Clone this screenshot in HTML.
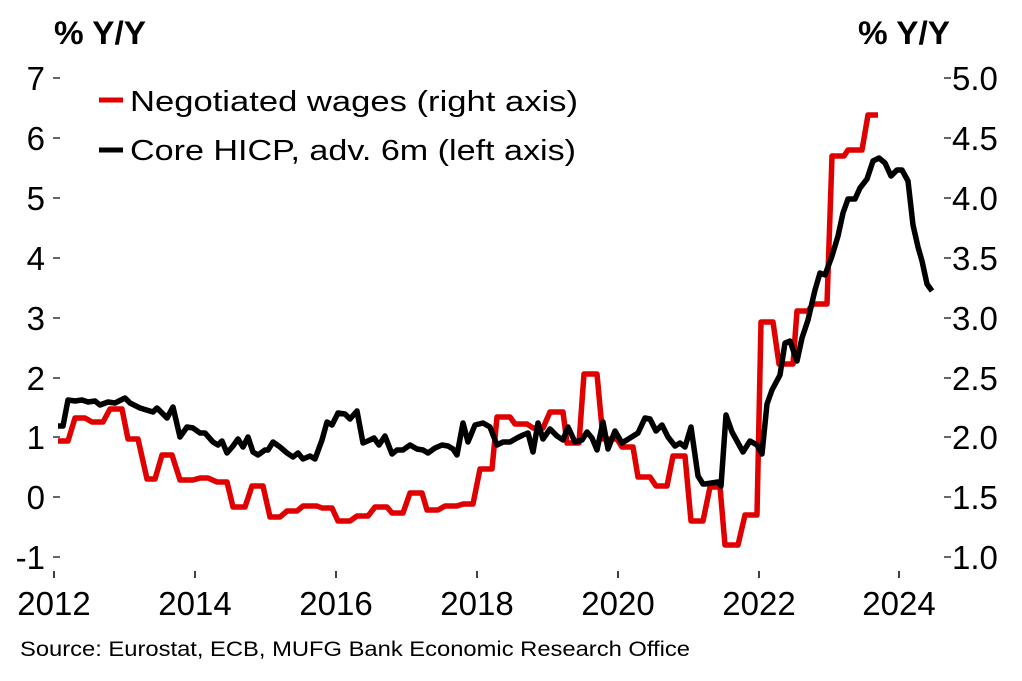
<!DOCTYPE html>
<html><head><meta charset="utf-8"><style>
html,body{margin:0;padding:0;background:#fff;}
svg{display:block;font-family:"Liberation Sans",Arial,sans-serif;}
</style></head><body>
<svg width="1022" height="681" viewBox="0 0 1022 681" xmlns="http://www.w3.org/2000/svg">
<rect width="1022" height="681" fill="#fff"/>
<text x="54" y="44" font-size="32" font-weight="bold" textLength="92" lengthAdjust="spacingAndGlyphs">% Y/Y</text>
<text x="858" y="44" font-size="32" font-weight="bold" textLength="92" lengthAdjust="spacingAndGlyphs">% Y/Y</text>
<g stroke="#000" stroke-width="1.2">
<line x1="53" y1="78" x2="60" y2="78"/><line x1="53" y1="138" x2="60" y2="138"/><line x1="53" y1="198" x2="60" y2="198"/><line x1="53" y1="258" x2="60" y2="258"/><line x1="53" y1="318" x2="60" y2="318"/><line x1="53" y1="378" x2="60" y2="378"/><line x1="53" y1="437" x2="60" y2="437"/><line x1="53" y1="497" x2="60" y2="497"/><line x1="53" y1="557" x2="60" y2="557"/>
<line x1="944" y1="78" x2="951" y2="78"/><line x1="944" y1="138" x2="951" y2="138"/><line x1="944" y1="198" x2="951" y2="198"/><line x1="944" y1="258" x2="951" y2="258"/><line x1="944" y1="318" x2="951" y2="318"/><line x1="944" y1="378" x2="951" y2="378"/><line x1="944" y1="437" x2="951" y2="437"/><line x1="944" y1="497" x2="951" y2="497"/><line x1="944" y1="557" x2="951" y2="557"/>
</g>
<g stroke="#000" stroke-width="1.5">
<line x1="54" y1="571" x2="54" y2="578"/><line x1="195" y1="571" x2="195" y2="578"/><line x1="336" y1="571" x2="336" y2="578"/><line x1="477" y1="571" x2="477" y2="578"/><line x1="618" y1="571" x2="618" y2="578"/><line x1="759" y1="571" x2="759" y2="578"/><line x1="899" y1="571" x2="899" y2="578"/>
</g>
<g font-size="33" text-anchor="end">
<text x="45" y="90">7</text><text x="45" y="150">6</text><text x="45" y="210">5</text><text x="45" y="270">4</text><text x="45" y="330">3</text><text x="45" y="390">2</text><text x="45" y="449">1</text><text x="45" y="509">0</text><text x="45" y="569">-1</text>
</g>
<g font-size="33">
<text x="952" y="90">5.0</text><text x="952" y="150">4.5</text><text x="952" y="210">4.0</text><text x="952" y="270">3.5</text><text x="952" y="330">3.0</text><text x="952" y="390">2.5</text><text x="952" y="449">2.0</text><text x="952" y="509">1.5</text><text x="952" y="569">1.0</text>
</g>
<g font-size="33" text-anchor="middle">
<text x="54" y="615">2012</text><text x="195" y="615">2014</text><text x="336" y="615">2016</text><text x="477" y="615">2018</text><text x="618" y="615">2020</text><text x="759" y="615">2022</text><text x="899" y="615">2024</text>
</g>
<polyline fill="none" stroke="#e00000" stroke-width="5.5" stroke-linejoin="round" points="58,441 68,441 75,418 85,418 92,422 103,422 110,409 122,409 128,439 138,439 147,479 155,479 162,455 172,455 180,480 193,480 200,478 208,478 217,482 227,482 233,507 245,507 252,486 263,486 270,517 280,517 287,511 297,511 303,506 317,506 322,508 332,508 338,521 350,521 357,516 368,516 375,507 387,507 392,513 403,513 410,493 422,493 427,510 438,510 445,506 457,506 463,504 473,504 480,469 492,469 497,417 510,417 515,424 527,424 533,428 543,428 550,412 563,412 567,443 579,443 584,374 597,374 603,439 617,439 622,447 633,447 638,477 650,477 656,486 667,486 673,456 685,456 691,521 703,521 710,487 720,487 725,545 738,545 745,515 757,515 761,322 773,322 779,364 793,364 797,311 808,311 813,304 827,304 832,156 844,156 848,150 862,150 868,115 878,115"/>
<polyline fill="none" stroke="#000" stroke-width="5.5" stroke-linejoin="round" points="58,426 63,426 68,400 75,401 82,400 88,402 95,401 100,405 108,402 115,403 125,398 130,403 140,408 153,412 157,408 167,418 173,407 180,437 187,427 193,428 200,433 205,433 213,442 218,445 222,441 227,453 233,446 238,439 243,447 248,437 253,452 258,455 265,450 268,450 273,442 280,447 287,453 293,457 298,453 303,459 310,456 315,459 322,440 327,422 332,425 338,413 345,414 350,419 357,411 363,443 370,440 374,438 379,445 385,436 392,454 397,450 403,450 410,445 417,449 423,450 428,453 435,448 442,445 448,446 453,449 457,455 463,423 468,442 475,425 483,423 490,427 497,445 503,442 510,442 517,438 523,435 528,433 533,452 538,423 543,439 550,429 557,436 563,440 568,427 575,442 582,440 587,432 592,438 597,450 603,422 608,449 615,431 622,443 630,438 638,433 645,418 650,419 656,431 662,425 668,437 675,446 680,443 685,447 691,427 698,476 703,484 705,484 718,482 721,486 726,415 732,432 743,452 750,441 757,445 762,454 767,404 772,390 780,375 785,343 790,341 797,361 802,338 808,320 815,290 820,273 825,275 832,256 838,236 843,213 848,199 855,199 860,188 867,179 873,161 879,158 885,163 891,176 897,170 902,170 908,181 913,225 918,247 922,261 927,284 932,291"/>
<line x1="99" y1="100" x2="123" y2="100" stroke="#e00000" stroke-width="5"/>
<line x1="99" y1="150" x2="123" y2="150" stroke="#000" stroke-width="5"/>
<text x="130" y="111" font-size="29" textLength="448" lengthAdjust="spacingAndGlyphs">Negotiated wages (right axis)</text>
<text x="130" y="160" font-size="29" textLength="446" lengthAdjust="spacingAndGlyphs">Core HICP, adv. 6m (left axis)</text>
<text x="20" y="656" font-size="21" textLength="670" lengthAdjust="spacingAndGlyphs">Source: Eurostat, ECB, MUFG Bank Economic Research Office</text>
</svg>
</body></html>
